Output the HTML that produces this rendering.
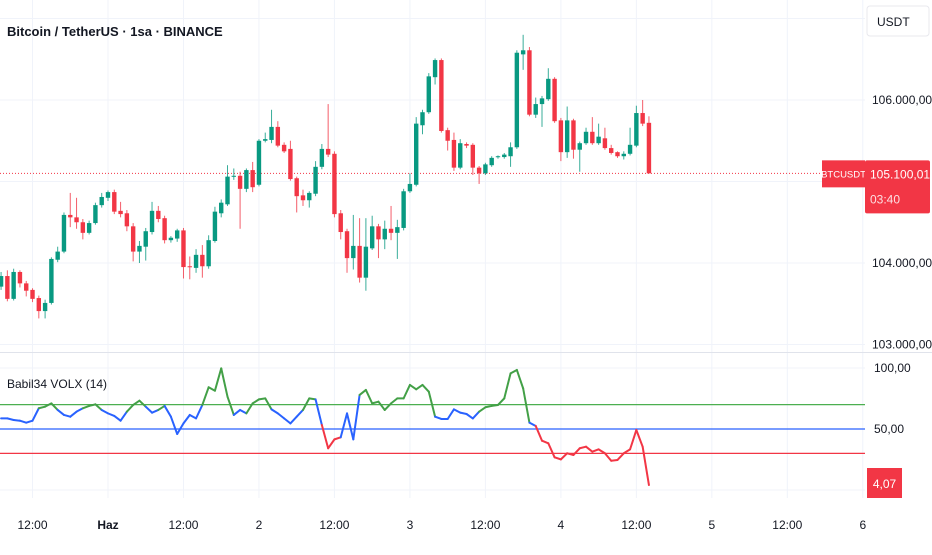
<!DOCTYPE html>
<html><head><meta charset="utf-8">
<style>
html,body{margin:0;padding:0;background:#fff;}
body{width:932px;height:550px;overflow:hidden;font-family:"Liberation Sans",sans-serif;}
svg text{font-family:"Liberation Sans",sans-serif;}
</style></head>
<body>
<svg id="chart" width="932" height="550" viewBox="0 0 932 550" xmlns="http://www.w3.org/2000/svg">
  <g id="grid"></g>
  <g id="candles"></g>
  <g id="ind"></g>
  <g id="axes"></g>
  <text x="7" y="36" font-size="13" font-weight="bold" fill="#131722">Bitcoin / TetherUS · 1sa · BINANCE</text>
  <text x="7" y="388" font-size="12" fill="#131722">Babil34 VOLX (14)</text>
  <rect x="867" y="6" width="62" height="30" rx="3" fill="#fff" stroke="#e8e8ee"/>
  <text x="877" y="26" font-size="12" fill="#131722">USDT</text>
</svg>
<script>
const ohlcOpen=[103710,103840,103560,103890,103750,103670,103570,103410,103510,104040,104140,104590,104560,104500,104370,104490,104710,104800,104870,104640,104610,104450,104140,104200,104380,104640,104550,104280,104300,104400,103960,103940,104100,103960,104270,104610,104720,105060,105070,104910,105140,104960,105500,105510,105670,105450,105400,105040,104830,104770,104850,105180,105400,105340,104610,104390,104060,104210,103820,104180,104450,104290,104420,104370,104430,104880,104960,105690,105850,106280,106490,105630,105510,105170,105460,105450,105170,105100,105200,105300,105300,105310,105420,106560,106610,105820,105950,106010,106260,105750,105360,105750,105390,105470,105610,105470,105530,105410,105360,105310,105340,105440,105840,105720];
const ohlcClose=[103840,103560,103890,103750,103660,103560,103410,103510,104050,104140,104590,104560,104500,104370,104490,104710,104810,104870,104630,104600,104450,104140,104210,104390,104640,104540,104280,104310,104400,103950,103950,104100,103960,104280,104630,104740,105060,105070,104910,105140,104930,105500,105520,105670,105440,105370,105030,104820,104770,104860,105180,105400,105330,104600,104380,104060,104210,103820,104200,104450,104290,104420,104370,104440,104880,104970,105710,105850,106290,106490,105620,105500,105170,105470,105440,105170,105100,105210,105290,105310,105330,105420,106580,106610,105820,105950,106020,106260,105740,105360,105750,105390,105470,105610,105470,105550,105410,105350,105310,105340,105450,105840,105710,105100];
const ohlcHigh=[103890,103910,103930,103910,103780,103690,103600,103550,104070,104200,104620,104860,104800,104540,104520,104740,104860,104890,104900,104750,104650,104490,104270,104430,104750,104700,104580,104330,104420,104430,104080,104170,104220,104340,104690,104780,105200,105160,105120,105160,105240,105520,105600,105880,105740,105480,105500,105060,104900,104880,105250,105460,105950,105370,104650,104420,104590,104550,104550,104580,104480,104520,104700,104530,104910,105100,105790,105880,106330,106510,106510,105660,105600,105520,105480,105470,105190,105230,105310,105320,105350,105480,106610,106800,106650,106030,106050,106390,106280,105780,105920,105770,105490,105660,105790,105710,105660,105450,105370,105370,105660,105930,106000,105800];
const ohlcLow=[103670,103530,103540,103700,103590,103520,103320,103320,103490,104010,104120,104440,104420,104290,104350,104470,104680,104760,104600,104560,104390,104020,104000,104030,104350,104500,104240,104250,104260,103810,103800,103880,103820,103930,104250,104560,104700,105020,104420,104870,104870,104940,105480,105470,105420,105350,105010,104620,104700,104680,104820,105150,105300,104560,104290,103880,103920,103760,103660,104160,104060,104170,104280,104050,104400,104860,104940,105580,105830,106190,105600,105380,105130,105150,105410,105080,104970,105080,105180,105280,105280,105180,105400,106370,105800,105780,105670,105990,105720,105250,105290,105280,105120,105450,105450,105450,105390,105330,105290,105270,105320,105420,105680,105100];
const volxValues=[58.7,58.7,57.4,56.8,55.2,56.8,67,68.3,71,65.6,61.5,60.1,64.2,67,68.9,70.2,65.6,62.8,60.7,56.8,64.2,69.7,73.2,68.3,63.4,65.6,68.9,60.1,45.9,54.6,61.5,58.7,69.7,84.2,81.4,99.7,76.5,61.5,65.6,62.8,71,74.3,75.1,66.1,62.8,58.7,54.6,60.1,65.6,75.1,74.3,53.3,34.2,41.5,43.2,62.8,41.5,77.9,82,71,72.4,65.6,71,75.1,75.1,86.1,82.5,86.1,80.6,60.1,58.2,58.2,66.1,63.4,62.3,58.7,64.2,67.8,68.9,69.7,75.1,95.6,98.4,83.3,55.2,52.5,40.4,38.3,26.8,25.1,30.1,28.7,34.2,35.5,31.4,33.3,30.1,24,24.6,30.1,33.3,49.2,35.5,4.07];
const priceTicks=[106000,105000,104000,103000];
const priceTickLabels=["106.000,00","","104.000,00","103.000,00"];
const volxTicks=[100,50];
const volxTickLabels=["100,00","50,00"];
const volxLevels=[70,50,30];
const timeLabels=["12:00","Haz","12:00","2","12:00","3","12:00","4","12:00","5","12:00","6"];
const timeLabelHours=[-12,0,12,24,36,48,60,72,84,96,108,120];
const lastPrice=105100.01;
const lastPriceLabel="105.100,01";
const lastVolxLabel="4,07";

const NS="http://www.w3.org/2000/svg";
const firstCandleHour=-17;
function xHour(h){return 108+(h)*6.29;}
function xIdx(i){return xHour(i+firstCandleHour);}
function yPrice(p){return 100+(106000-p)*0.0815;}
function yVol(v){return 429-(v-50)*1.22;}
function mk(tag,attrs,parent){const e=document.createElementNS(NS,tag);for(const k in attrs)e.setAttribute(k,attrs[k]);parent.appendChild(e);return e;}

const grid=document.getElementById('grid');
const axes=document.getElementById('axes');
timeLabelHours.forEach((h,i)=>{
  const x=xHour(h);
  const l=mk('line',{x1:x,x2:x,y1:0,y2:498,stroke:'#f0f3fa','stroke-width':1},grid);
  
  
  const t=mk('text',{x:x,y:529,'font-size':12,'text-anchor':'middle',fill:'#131722','font-weight':timeLabels[i]==='Haz'?'bold':'normal'},axes);
  t.textContent=timeLabels[i];
  
  
});
[107000].concat(priceTicks).forEach(p=>{
  const y=yPrice(p);
  const l=mk('line',{x1:0,x2:865,y1:y,y2:y,stroke:'#f0f3fa','stroke-width':1},grid);
  
  
});
priceTicks.forEach((p,i)=>{
  if(!priceTickLabels[i])return;
  const t=mk('text',{x:872,y:yPrice(p)+4,'font-size':12,fill:'#131722'},axes);
  t.textContent=priceTickLabels[i];
  
  
});
const sep=mk('line',{x1:0,x2:932,y1:352.5,y2:352.5,stroke:'#e0e3eb','stroke-width':1},grid);


[100,0].forEach(v=>{
  const y=yVol(v);
  const l=mk('line',{x1:0,x2:865,y1:y,y2:y,stroke:'#f0f3fa','stroke-width':1},grid);
  
  
});
volxTicks.forEach((v,i)=>{
  const t=mk('text',{x:874,y:yVol(v)+4,'font-size':12,fill:'#131722'},axes);
  t.textContent=volxTickLabels[i];
  
  
});

const lpY=yPrice(lastPrice);
const lp=mk('line',{x1:0,x2:822,y1:lpY,y2:lpY,stroke:'#f23645','stroke-width':1,'stroke-dasharray':'1 2'},grid);



const cg=document.getElementById('candles');
for(let i=0;i<ohlcOpen.length;i++){
  const o=ohlcOpen[i],c=ohlcClose[i],h=ohlcHigh[i],l=ohlcLow[i];
  const col=c>=o?'#089981':'#f23645';
  const x=xIdx(i);
  const w=mk('line',{x1:x,x2:x,y1:yPrice(h),y2:yPrice(l),stroke:col,'stroke-width':1,opacity:0.8},cg);
  
  
  const top=Math.min(yPrice(o),yPrice(c));
  const hh=Math.max(1,Math.abs(yPrice(o)-yPrice(c)));
  const b=mk('rect',{x:x-2.2,y:top,width:4.4,height:hh,fill:col},cg);
  
  
}

const ig=document.getElementById('ind');
const lvlCols=['#4caf50','#2962ff','#f23645'];
volxLevels.forEach((v,i)=>{
  const y=yVol(v);
  const l=mk('line',{x1:0,x2:865,y1:y,y2:y,stroke:lvlCols[i],'stroke-width':1.3},ig);
  
  
});
for(let i=0;i<volxValues.length-1;i++){
  const a=volxValues[i],b=volxValues[i+1],m=(a+b)/2;
  const col=m>=66?'#43a047':(m<=47?'#f23645':'#2962ff');
  const s=mk('line',{x1:xIdx(i),y1:yVol(a),x2:xIdx(i+1),y2:yVol(b),stroke:col,'stroke-width':2,'stroke-linecap':'round'},ig);
  
  
}

const r1=mk('rect',{x:822,y:lpY-13,width:43,height:27,fill:'#f23645'},axes);


const t1=mk('text',{x:843.5,y:lpY+4,'font-size':9.5,fill:'#fff','text-anchor':'middle'},axes);
t1.textContent='BTCUSDT';


const r2=mk('rect',{x:865,y:lpY-13,width:65,height:53,fill:'#f23645',rx:2},axes);


const t2=mk('text',{x:870,y:lpY+5,'font-size':12,fill:'#fff'},axes);
t2.textContent=lastPriceLabel;


const t3=mk('text',{x:870,y:lpY+30,'font-size':12,fill:'#fde0e3'},axes);
t3.textContent='03:40';


const r3=mk('rect',{x:867,y:468,width:35,height:30,fill:'#f23645'},axes);


const t4=mk('text',{x:884.5,y:488,'font-size':12,fill:'#fff','text-anchor':'middle'},axes);
t4.textContent=lastVolxLabel;


</script>
</body></html>
